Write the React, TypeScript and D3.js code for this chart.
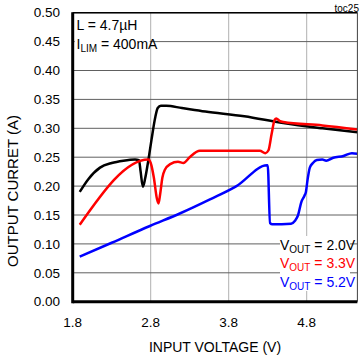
import React from "react";
import * as d3 from "d3";

const xTicks = [1.8, 2.8, 3.8, 4.8];
const yTicks = [0, 0.05, 0.1, 0.15, 0.2, 0.25, 0.3, 0.35, 0.4, 0.45, 0.5];

const v20: [number, number][] = [
  [1.89, 0.19], [2.0, 0.212], [2.15, 0.232], [2.3, 0.24], [2.45, 0.244], [2.6, 0.246],
  [2.65, 0.245], [2.67, 0.226], [2.7, 0.199], [2.73, 0.214], [2.77, 0.245], [2.81, 0.28],
  [2.86, 0.32], [2.89, 0.335], [2.93, 0.339], [3.0, 0.339], [3.2, 0.335], [3.5, 0.329],
  [4.0, 0.321], [4.5, 0.309], [5.0, 0.3], [5.45, 0.293],
];
const v33: [number, number][] = [
  [1.89, 0.133], [2.77, 0.246], [2.8, 0.24], [2.84, 0.215], [2.88, 0.178], [2.9, 0.17],
  [2.92, 0.185], [2.95, 0.215], [2.98, 0.228], [3.05, 0.238], [3.15, 0.242], [3.22, 0.24],
  [3.3, 0.25], [3.43, 0.261], [4.2, 0.261], [4.27, 0.257], [4.31, 0.262], [4.35, 0.29],
  [4.39, 0.315], [4.41, 0.317], [4.45, 0.313], [4.5, 0.311], [5.0, 0.305], [5.45, 0.298],
];
const v52: [number, number][] = [
  [1.89, 0.078], [2.3, 0.102], [2.79, 0.131], [3.18, 0.153], [3.56, 0.177], [3.9, 0.2],
  [4.29, 0.236], [4.3, 0.236], [4.33, 0.136], [4.36, 0.134], [4.6, 0.135], [4.65, 0.14],
  [4.69, 0.15], [4.73, 0.172], [4.77, 0.183], [4.79, 0.19], [4.81, 0.21], [4.84, 0.232],
  [4.88, 0.24], [4.93, 0.245], [5.0, 0.246], [5.05, 0.244], [5.14, 0.249], [5.27, 0.252],
  [5.38, 0.257], [5.45, 0.256],
];

const seriesNames = ["2.0V", "3.3V", "5.2V"];
const seriesColors = ["#000000", "#ff0000", "#0000ff"];
const seriesData = [v20, v33, v52];

const font = "'Liberation Sans', Arial, sans-serif";

export default function App() {
  const left = 72.7, right = 357.4, top = 12.7, bottom = 301.7;
  const x = d3.scaleLinear().domain([1.8, 5.45]).range([left, right]);
  const y = d3.scaleLinear().domain([0, 0.5]).range([bottom, top]);
  const line = d3
    .line<[number, number]>()
    .x((d) => x(d[0]))
    .y((d) => y(d[1]))
    .curve(d3.curveMonotoneX);

  return (
    <svg
      width={361}
      height={358}
      style={{ position: "absolute", left: 0, top: 0, background: "#fff" }}
      fontFamily={font}
    >
      <defs>
        <clipPath id="plot">
          <rect x={left} y={top} width={right - left} height={bottom - top} />
        </clipPath>
      </defs>
      {xTicks.slice(1).map((t) => (
        <line key={"vx" + t} x1={x(t)} x2={x(t)} y1={top} y2={bottom} stroke="#b0b0b0" strokeWidth={1} />
      ))}
      {yTicks.slice(1).map((t) => (
        <line key={"hy" + t} x1={left} x2={right} y1={y(t)} y2={y(t)} stroke="#606060" strokeWidth={1} />
      ))}
      <rect x={left + 2} y={top + 1.5} width={75} height={36} fill="#fff" />
      <rect x={280} y={236} width={70} height={55} fill="#fff" />
      <g clipPath="url(#plot)">
        {seriesData.map((d, i) => (
          <path key={i} d={line(d) ?? ""} fill="none" stroke={seriesColors[i]} strokeWidth={2.5} strokeLinejoin="round" />
        ))}
      </g>
      <line x1={left} x2={right} y1={top} y2={top} stroke="#000" strokeWidth={1.5} />
      <line x1={right} x2={right} y1={top} y2={bottom} stroke="#404040" strokeWidth={1} />
      <line x1={left} x2={left} y1={top - 0.5} y2={bottom + 1.5} stroke="#000" strokeWidth={3} />
      <line x1={left} x2={right} y1={bottom} y2={bottom} stroke="#000" strokeWidth={3} />
      {yTicks.map((t) => (
        <text key={"yl" + t} x={60} y={y(t)} dy="0.35em" textAnchor="end" fontSize={13.5} fill="#000">
          {t.toFixed(2)}
        </text>
      ))}
      {xTicks.map((t) => (
        <text key={"xl" + t} x={x(t)} y={322} dy="0.35em" textAnchor="middle" fontSize={13.5} fill="#000">
          {t.toFixed(1)}
        </text>
      ))}
      <text x={215} y={347} dy="0.35em" textAnchor="middle" fontSize={14} fill="#000">
        INPUT VOLTAGE (V)
      </text>
      <text
        transform="translate(13,191) rotate(-90)"
        textAnchor="middle"
        dy="0.35em"
        fontSize={15}
        fill="#000"
      >
        OUTPUT CURRET (A)
      </text>
      <text x={359} y={8} dy="0.35em" textAnchor="end" fontSize={10} fill="#000">
        toc25
      </text>
      <text x={76.5} y={25} dy="0.35em" fontSize={14} fill="#000">
        L = 4.7µH
      </text>
      <text x={76.5} y={44} dy="0.35em" fontSize={14} fill="#000">
        I<tspan fontSize={10} dy={3}>LIM</tspan>
        <tspan dy={-3}> = 400mA</tspan>
      </text>
      {seriesNames.map((n, i) => (
        <text key={n} x={280} y={245 + i * 18.5} dy="0.35em" fontSize={14} fill={seriesColors[i]}>
          V<tspan fontSize={10} dy={3}>OUT</tspan>
          <tspan dy={-3}>{" = " + n}</tspan>
        </text>
      ))}
    </svg>
  );
}
